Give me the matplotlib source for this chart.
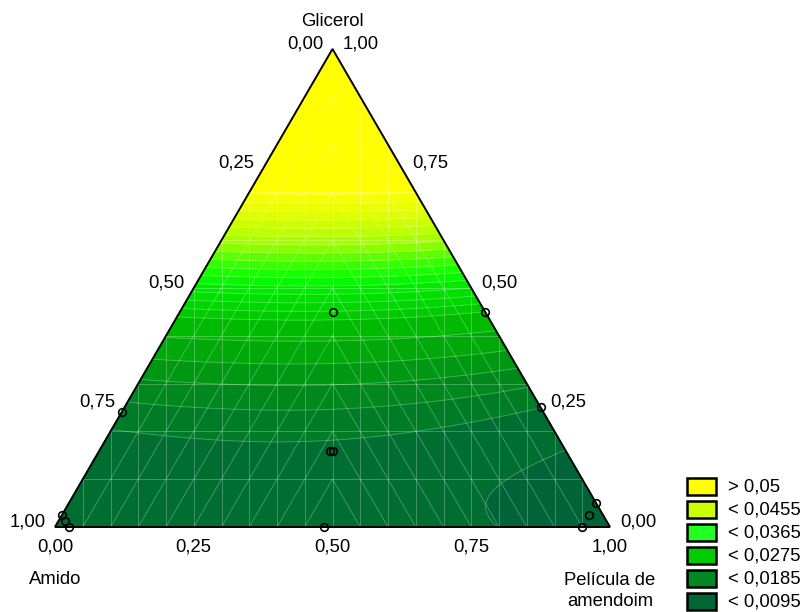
import numpy as np
import matplotlib
matplotlib.use("Agg")
import matplotlib.pyplot as plt
import matplotlib.tri as mtri
from matplotlib.patches import Polygon, Rectangle

plt.rcParams['font.family'] = ['Liberation Sans', 'DejaVu Sans']
FS = 13.3

# fitted response surface:
# f = c0 + c1*G + c2*G^2 + c3*G^3 - cq*(A-P)^2 - s*P^3
c0, c1, c2, c3 = 0.0100, -0.0202, 0.188, -0.1096
cq, s = 0.002, 0.0055

# experimental runs: fractions of amido, glicerol, pelicula
run_amido = [0.275, 0.00, 0.76, 0.00, 0.42, 0.425, 0.515, 0.975, 0.975, 0.975, 0.00, 0.025, 0.05]
run_glic = [0.45, 0.45, 0.24, 0.25, 0.16, 0.158, 0.00, 0.025, 0.0125, 0.00, 0.05, 0.025, 0.00]
run_pel = [0.275, 0.55, 0.00, 0.75, 0.42, 0.417, 0.485, 0.00, 0.0125, 0.025, 0.95, 0.95, 0.95]

# legend classes
leg_labels = ['> 0,05', '< 0,0455', '< 0,0365', '< 0,0275', '< 0,0185', '< 0,0095']
leg_colors = ['#FFFF00', '#CCFF00', '#22FF22', '#00CC00', '#008822', '#006633']

# contour bands of the surface
band_levels = [0.0, 0.0065, 0.0115, 0.0145, 0.0175, 0.0205, 0.0240, 0.0275,
               0.0290, 0.0305, 0.0320, 0.0335, 0.0350, 0.0365, 0.0380, 0.0395,
               0.0410, 0.0425, 0.0440, 0.0455, 0.0470, 0.0485, 0.0500, 0.2]
band_colors = ['#006438', '#006E31', '#007C27', '#00881C', '#009812',
               '#00A80A', '#00BA02', '#00CB00', '#00D600', '#00E000', '#00EA00',
               '#08F600', '#18FF00', '#35FF00', '#5CFF00', '#88FF00', '#A6FF00',
               '#BBFF00', '#CCFF00', '#DDFF00', '#EAFF00', '#F5FF00', '#FFFF00']

tick_vals = [0.0, 0.25, 0.5, 0.75, 1.0]
tick_txt = ['0,00', '0,25', '0,50', '0,75', '1,00']

H = np.sqrt(3) / 2


def to_xy(g, p):
    g = np.asarray(g, float)
    p = np.asarray(p, float)
    return p + g / 2, g * H


def model(a, g, p):
    return (c0 + c1 * g + c2 * g ** 2 + c3 * g ** 3
            - cq * (a - p) ** 2 - s * p ** 3)


fig = plt.figure(figsize=(8, 6.12), dpi=100)
ax = fig.add_axes([0, 0, 1, 1])
ax.set_xlim(-55 / 555, 745 / 555)
ax.set_ylim(-85 / 552, 527 / 552)
ax.axis('off')

# grid over the simplex
n = 160
gg, pp = [], []
for i in range(n + 1):
    for j in range(n + 1 - i):
        gg.append(i / n)
        pp.append(j / n)
gg = np.array(gg)
pp = np.array(pp)
aa = 1 - gg - pp
X, Y = to_xy(gg, pp)
tri = mtri.Triangulation(X, Y)
Z = model(aa, gg, pp)

ax.tricontourf(tri, Z, levels=band_levels, colors=band_colors)
ax.tricontour(tri, Z, levels=band_levels[1:-1], colors='white',
              linewidths=0.7, alpha=0.25)

# rendering mesh
mesh_kw = dict(color='white', lw=0.6, alpha=0.3, zorder=3)
for k in range(1, 20):
    x = k * 0.05
    ax.plot([x, x], [0, 2 * H * min(x, 1 - x)], **mesh_kw)
for k in range(1, 10):
    g = k * 0.1
    x0, y0 = to_xy(g, 0)
    x1, y1 = to_xy(g, 1 - g)
    ax.plot([x0, x1], [y0, y1], **mesh_kw)
for k in range(1, 10):
    p = k * 0.05
    xs, ys = to_xy([0, 1 - 2 * p], [p, p])
    ax.plot(xs, ys, **mesh_kw)
    xs, ys = to_xy([0, 1 - 2 * p], [1 - p, p])
    ax.plot(xs, ys, **mesh_kw)

tri_x, tri_y = to_xy([0, 1, 0], [0, 0, 1])
ax.add_patch(Polygon(np.column_stack([tri_x, tri_y]), closed=True,
                     fc='none', ec='black', lw=1.4, zorder=5))

# design points
rx, ry = to_xy(run_glic, run_pel)
ax.plot(rx, ry, 'o', mfc='none', mec='black', ms=5.5, mew=1.2, zorder=6)

# axis tick labels
for v, t in zip(tick_vals, tick_txt):
    # amido along the left edge
    x, y = to_xy(1 - v, 0)
    ax.annotate(t, (x, y), xytext=(-9, 5), textcoords='offset pixels',
                ha='right', va='center', fontsize=FS)
    # glicerol along the right edge
    x, y = to_xy(v, 1 - v)
    ax.annotate(t, (x, y), xytext=(10, 5), textcoords='offset pixels',
                ha='left', va='center', fontsize=FS)
    # pelicula along the base
    x, y = to_xy(0, v)
    ax.annotate(t, (x, y), xytext=(0, -20), textcoords='offset pixels',
                ha='center', va='center', fontsize=FS)

x, y = to_xy(1, 0)
ax.annotate('Glicerol', (x, y), xytext=(0, 27), textcoords='offset pixels',
            ha='center', va='center', fontsize=FS)
x, y = to_xy(0, 0)
ax.annotate('Amido', (x, y), xytext=(0, -52), textcoords='offset pixels',
            ha='center', va='center', fontsize=FS)
x, y = to_xy(0, 1)
ax.annotate('Película de\namendoim', (x, y), xytext=(0, -64), textcoords='offset pixels',
            ha='center', va='center', fontsize=FS, linespacing=1.25)

# legend
W, Hf = 800.0, 612.0
for i, (lab, col) in enumerate(zip(leg_labels, leg_colors)):
    top = 478 + 23 * i
    fig.patches.append(Rectangle((687 / W, 1 - (top + 17) / Hf), 29 / W, 17 / Hf,
                                 transform=fig.transFigure, fc=col, ec='black', lw=1.8))
    fig.text(728 / W, 1 - (top + 9) / Hf, lab, ha='left', va='center', fontsize=FS)

fig.savefig('out.png', dpi=100)
